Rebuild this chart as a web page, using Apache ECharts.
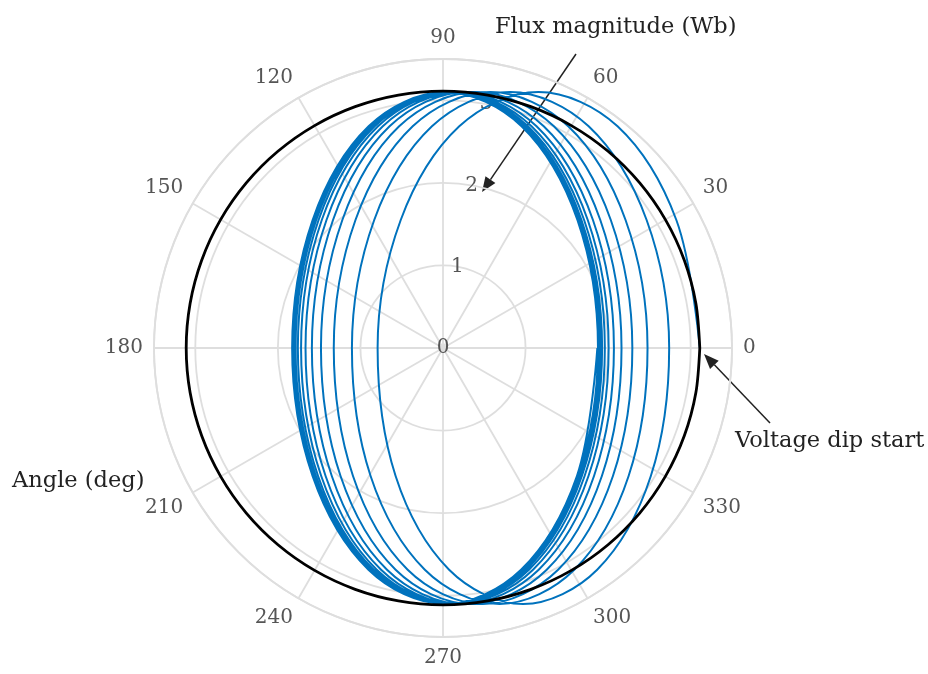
<!DOCTYPE html>
<html><head><meta charset="utf-8">
<script src="https://cdn.jsdelivr.net/npm/echarts@6/dist/echarts.min.js"></script>
<style>html,body{margin:0;padding:0;background:#fff}#c{width:928px;height:674px}</style>
</head><body><div id="c"></div>
<script>
// Angle axis ticks (deg) and radius ticks (Wb)
const angleTicks = [0, 30, 60, 90, 120, 150, 180, 210, 240, 270, 300, 330];
const radiusTicks = [0, 1, 2, 3];

// Stator flux trajectory after the dip (Wb components)
const fluxX = [
  3.110, 2.826, 2.114, 1.155, 0.197, -0.512, -0.792, -0.574, 0.074, 0.970, 1.867, 2.517,
  2.739, 2.466, 1.764, 0.815, -0.134, -0.833, -1.103, -0.877, -0.220, 0.685, 1.590, 2.248,
  2.477, 2.211, 1.517, 0.575, -0.367, -1.060, -1.323, -1.090, -0.428, 0.483, 1.394, 2.058,
  2.293, 2.032, 1.343, 0.406, -0.531, -1.219, -1.478, -1.241, -0.574, 0.341, 1.256, 1.924,
  2.162, 1.905, 1.220, 0.286, -0.647, -1.332, -1.588, -1.347, -0.678, 0.240, 1.159, 1.829,
  2.070, 1.816, 1.133, 0.202, -0.729, -1.411, -1.665, -1.422, -0.750, 0.170, 1.090, 1.762,
  2.006, 1.753, 1.072, 0.143, -0.787, -1.468, -1.719, -1.475, -0.802, 0.120, 1.041, 1.715,
  1.960, 1.709, 1.029, 0.101, -0.827, -1.507, -1.758, -1.513, -0.838, 0.085, 1.007, 1.682,
  1.927, 1.677, 0.998, 0.071, -0.856, -1.535, -1.785, -1.539, -0.864, 0.060, 0.983, 1.658,
  1.905, 1.655, 0.977, 0.050, -0.876, -1.555, -1.804, -1.557, -0.882, 0.042, 0.966, 1.642,
  1.889, 1.640, 0.961, 0.035, -0.891, -1.569, -1.818, -1.571, -0.894, 0.030, 0.954, 1.630,
  1.877, 1.628, 0.951, 0.025, -0.901, -1.579, -1.827, -1.580, -0.903, 0.021, 0.945, 1.622,
  1.869
];
const fluxY = [
  0, 1.55, 2.685, 3.1, 2.685, 1.55, 0, -1.55, -2.685, -3.1, -2.685, -1.55,
  0, 1.55, 2.685, 3.1, 2.685, 1.55, 0, -1.55, -2.685, -3.1, -2.685, -1.55,
  0, 1.55, 2.685, 3.1, 2.685, 1.55, 0, -1.55, -2.685, -3.1, -2.685, -1.55,
  0, 1.55, 2.685, 3.1, 2.685, 1.55, 0, -1.55, -2.685, -3.1, -2.685, -1.55,
  0, 1.55, 2.685, 3.1, 2.685, 1.55, 0, -1.55, -2.685, -3.1, -2.685, -1.55,
  0, 1.55, 2.685, 3.1, 2.685, 1.55, 0, -1.55, -2.685, -3.1, -2.685, -1.55,
  0, 1.55, 2.685, 3.1, 2.685, 1.55, 0, -1.55, -2.685, -3.1, -2.685, -1.55,
  0, 1.55, 2.685, 3.1, 2.685, 1.55, 0, -1.55, -2.685, -3.1, -2.685, -1.55,
  0, 1.55, 2.685, 3.1, 2.685, 1.55, 0, -1.55, -2.685, -3.1, -2.685, -1.55,
  0, 1.55, 2.685, 3.1, 2.685, 1.55, 0, -1.55, -2.685, -3.1, -2.685, -1.55,
  0, 1.55, 2.685, 3.1, 2.685, 1.55, 0, -1.55, -2.685, -3.1, -2.685, -1.55,
  0, 1.55, 2.685, 3.1, 2.685, 1.55, 0, -1.55, -2.685, -3.1, -2.685, -1.55,
  0
];

// Pre-dip steady-state flux circle
const refAngle = [0,10,20,30,40,50,60,70,80,90,100,110,120,130,140,150,160,170,180,
                  190,200,210,220,230,240,250,260,270,280,290,300,310,320,330,340,350,360];
const refRadius = [3.11,3.11,3.11,3.11,3.11,3.11,3.11,3.11,3.11,3.11,3.11,3.11,3.11,3.11,3.11,3.11,3.11,3.11,3.11,
                   3.11,3.11,3.11,3.11,3.11,3.11,3.11,3.11,3.11,3.11,3.11,3.11,3.11,3.11,3.11,3.11,3.11,3.11];

// Texts
const titleRadius = 'Flux magnitude (Wb)';
const titleAngle = 'Angle (deg)';
const noteDip = 'Voltage dip start';

const FONT = '"DejaVu Serif", "Liberation Serif", serif';
const GRID = '#dedede';
const LABEL = '#555555';
const INK = '#222222';

const fluxPolar = fluxX.map((x, i) => {
  const y = fluxY[i];
  let a = Math.atan2(y, x) * 180 / Math.PI;
  if (a < 0) a += 360;
  return [Math.hypot(x, y), a];
});
const refPolar = refRadius.map((r, i) => [r, refAngle[i]]);

const CX = 443, CY = 348, R = 289;

function arrow(x1, y1, x2, y2) {
  const ang = Math.atan2(y2 - y1, x2 - x1);
  const L = 15, W = 6;
  const bx = x2 - L * Math.cos(ang), by = y2 - L * Math.sin(ang);
  const px = -Math.sin(ang) * W, py = Math.cos(ang) * W;
  return [
    {type: 'line', silent: true, shape: {x1, y1, x2: bx, y2: by}, style: {stroke: INK, lineWidth: 1.5}},
    {type: 'polygon', silent: true, shape: {points: [[x2, y2], [bx + px, by + py], [bx - px, by - py]]}, style: {fill: INK}}
  ];
}

const chart = echarts.init(document.getElementById('c'), null, {renderer: 'canvas'});
chart.setOption({
  animation: false,
  backgroundColor: '#fff',
  polar: [
    {center: [CX, CY], radius: R},
    {center: [CX, CY], radius: R}
  ],
  angleAxis: [
    {
      polarIndex: 0, type: 'value', min: 0, max: 360, interval: 30,
      startAngle: 0, clockwise: false,
      axisLine: {lineStyle: {color: GRID, width: 1.8}},
      axisTick: {show: false},
      axisLabel: {
        margin: 11, color: LABEL, fontFamily: FONT, fontSize: 20,
        formatter: v => angleTicks.indexOf(v) >= 0 ? String(v) : ''
      },
      splitLine: {lineStyle: {color: GRID, width: 1.8}}
    },
    {polarIndex: 1, type: 'value', min: 0, max: 360, startAngle: 80, clockwise: false, show: false}
  ],
  radiusAxis: [
    {
      polarIndex: 0, type: 'value', min: 0, max: 3.5, interval: 1,
      axisLine: {show: false}, axisTick: {show: false}, axisLabel: {show: false},
      splitLine: {lineStyle: {color: GRID, width: 1.8}}
    },
    {
      polarIndex: 1, type: 'value', min: 0, max: 3.5, interval: 1,
      axisLine: {show: false}, axisTick: {show: false}, splitLine: {show: false},
      axisLabel: {
        margin: 0, align: 'center', verticalAlign: 'middle',
        color: LABEL, fontFamily: FONT, fontSize: 20,
        formatter: v => radiusTicks.indexOf(v) >= 0 ? String(v) : ''
      }
    }
  ],
  series: [
    {
      type: 'line', coordinateSystem: 'polar', polarIndex: 0,
      data: fluxPolar, showSymbol: false, smooth: 0.35,
      lineStyle: {color: '#0072BD', width: 2}, z: 3
    },
    {
      type: 'line', coordinateSystem: 'polar', polarIndex: 0,
      data: refPolar, showSymbol: false, smooth: 0.3,
      lineStyle: {color: '#000000', width: 2.8}, z: 4
    }
  ],
  graphic: [
    {type: 'text', x: 495, y: 27, style: {text: titleRadius, fontFamily: FONT, fontSize: 22.5, fill: INK, align: 'left', verticalAlign: 'middle'}},
    {type: 'text', x: 12, y: 481, style: {text: titleAngle, fontFamily: FONT, fontSize: 22.5, fill: INK, align: 'left', verticalAlign: 'middle'}},
    {type: 'text', x: 735, y: 441, style: {text: noteDip, fontFamily: FONT, fontSize: 22.5, fill: INK, align: 'left', verticalAlign: 'middle'}},
    ...arrow(576, 54, 482, 192),
    ...arrow(770, 423, 704, 354)
  ]
});
</script></body></html>
